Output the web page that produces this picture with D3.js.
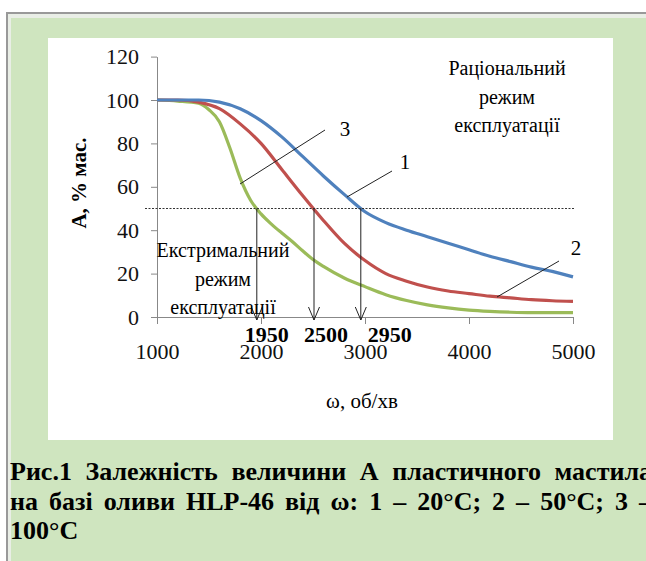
<!DOCTYPE html>
<html>
<head>
<meta charset="utf-8">
<script src="https://d3js.org/d3.v7.min.js"></script>
<style>
  body { margin: 0; width: 646px; height: 561px; overflow: hidden; position: relative; background: #fff; }
  svg { position: absolute; left: 0; top: 0; }
  .cap { position: absolute; left: 10px; width: 642px; font: bold 26px "Liberation Serif", "Times New Roman", serif;
         text-align: justify; text-align-last: justify; white-space: nowrap; color: #000; line-height: 30px; }
  .cap.last { text-align-last: left; }
  .axis text { font: 22px "Liberation Serif", "Times New Roman", serif; fill: #111; }
  .axis path, .axis line { stroke: #888; }
</style>
</head>
<body>
<script>
// chart data
var omega = [1000, 1200, 1400, 1600, 1800, 2000, 2200, 2400, 2600, 2800, 3000, 3200, 3400, 3600, 3800, 4000, 4200, 4400, 4600, 4800, 5000];
var curve1 = [100, 100, 100, 99, 96, 90.5, 83, 74, 65, 56.5, 48.5, 43.5, 40, 37, 34, 31, 28, 25.5, 23, 21, 18.5]; // 20°C
var curve2 = [100, 100, 99, 96, 89, 80, 68, 56, 44.5, 34, 26, 20, 16.5, 13.8, 12, 10.8, 9.6, 8.8, 8, 7.5, 7.2];    // 50°C
var omega3 = [1000, 1200, 1400, 1500, 1600, 1700, 1800, 1900, 2000, 2100, 2200, 2300, 2400, 2500, 2600, 2800, 3000, 3200, 3400, 3600, 3800, 4000, 4200, 4400, 4600, 4800, 5000];
var curve3 = [100, 99.5, 98.5, 95.5, 90, 78, 64, 53.8, 47.5, 42.8, 38.7, 34.8, 30.5, 26.5, 23.3, 18, 14, 10.3, 7.6, 5.6, 4.2, 3.2, 2.6, 2.2, 2, 2, 2]; // 100°C
var xTicks = [1000, 2000, 3000, 4000, 5000];
var yTicks = [0, 20, 40, 60, 80, 100, 120];
var criticalA = 50;
var criticalOmega = [1950, 2500, 2950];

var W = 646, H = 561;
var svg = d3.select("body").append("svg").attr("width", W).attr("height", H);

// frame
svg.append("rect").attr("x", 6).attr("y", 12).attr("width", W).attr("height", H).attr("fill", "#999");
svg.append("rect").attr("x", 8).attr("y", 14).attr("width", W).attr("height", H).attr("fill", "#e9eee6");
svg.append("rect").attr("x", 11).attr("y", 18).attr("width", W).attr("height", H).attr("fill", "#cfe5bf");
svg.append("rect").attr("x", 48).attr("y", 38).attr("width", 565).attr("height", 402).attr("fill", "#fff");

var x = d3.scaleLinear().domain([1000, 5000]).range([157, 573]);
var y = d3.scaleLinear().domain([0, 120]).range([317, 56.6]);

svg.append("g").attr("class", "axis")
  .attr("transform", "translate(157,0)")
  .call(d3.axisLeft(y).tickValues(yTicks).tickSize(6).tickSizeOuter(0).tickPadding(12));

svg.append("g").attr("class", "axis")
  .attr("transform", "translate(0,317)")
  .call(d3.axisBottom(x).tickValues(xTicks).tickFormat(d3.format("d")).tickSize(7).tickSizeOuter(0).tickPadding(19));

// axis titles
svg.append("text").attr("transform", "translate(86,183) rotate(-90)")
  .attr("text-anchor", "middle").style("font", "bold 21px 'Liberation Serif', serif").text("А, % мас.");
svg.append("text").attr("x", 362).attr("y", 408)
  .attr("text-anchor", "middle").style("font", "21px 'Liberation Serif', serif").text("ω, об/хв");

// curves
var line = d3.line().curve(d3.curveMonotoneX).x(function(d) { return x(d[0]); }).y(function(d) { return y(d[1]); });
var series = [
  { xs: omega3, ys: curve3, color: "#9bbb59" },
  { xs: omega, ys: curve2, color: "#c0504d" },
  { xs: omega, ys: curve1, color: "#4f81bd" }
];
series.forEach(function(s) {
  svg.append("path")
    .datum(s.xs.map(function(v, i) { return [v, s.ys[i]]; }))
    .attr("d", line)
    .attr("fill", "none")
    .attr("stroke", s.color)
    .attr("stroke-width", 3.2);
});

// critical level line
svg.append("line")
  .attr("x1", x(1000) - 12).attr("x2", x(5000) + 2)
  .attr("y1", y(criticalA)).attr("y2", y(criticalA))
  .attr("stroke", "#333").attr("stroke-width", 1).attr("stroke-dasharray", "2,1.5");

// arrows
svg.append("defs").append("marker")
  .attr("id", "arr").attr("viewBox", "-14 -7 15 14").attr("refX", 0).attr("refY", 0)
  .attr("markerWidth", 15).attr("markerHeight", 14).attr("markerUnits", "userSpaceOnUse").attr("orient", "auto")
  .append("path").attr("d", "M-13,-5.5 L0,0 L-13,5.5").attr("fill", "none").attr("stroke", "#222").attr("stroke-width", 1);

svg.selectAll(".arrow").data(criticalOmega).enter().append("line")
  .attr("x1", function(d) { return x(d) + 1; }).attr("x2", function(d) { return x(d) + 1; })
  .attr("y1", y(criticalA)).attr("y2", y(0) + 3)
  .attr("stroke", "#222").attr("stroke-width", 1)
  .attr("marker-end", "url(#arr)");

svg.selectAll(".crit").data(criticalOmega).enter().append("text")
  .attr("x", function(d, i) { return x(d) + [11, 13, 30][i]; })
  .attr("y", 342)
  .attr("text-anchor", "middle")
  .style("font", "bold 22px 'Liberation Serif', serif")
  .text(function(d) { return d; });

// leader lines and curve numbers
var leaders = [[240, 184, 325, 130], [347, 197, 392, 171], [497, 297, 559, 261]];
leaders.forEach(function(l) {
  svg.append("line").attr("x1", l[0]).attr("y1", l[1]).attr("x2", l[2]).attr("y2", l[3])
    .attr("stroke", "#222").attr("stroke-width", 1);
});
var labels = [["3", 345, 136], ["1", 405, 169], ["2", 576, 255]];
labels.forEach(function(t) {
  svg.append("text").attr("x", t[1]).attr("y", t[2]).attr("text-anchor", "middle")
    .style("font", "21px 'Liberation Serif', serif").text(t[0]);
});

// regime notes
function note(lines, cx, y0) {
  var t = svg.append("text").attr("text-anchor", "middle").style("font", "20px 'Liberation Serif', serif");
  lines.forEach(function(s, i) {
    t.append("tspan").attr("x", cx).attr("y", y0 + i * 28.5).text(s);
  });
}
note(["Раціональний", "режим", "експлуатації"], 507, 75);
note(["Екстримальний", "режим", "експлуатації"], 223, 257);

// caption
var caption = ["Рис.1 Залежність величини А пластичного мастила", "на базі оливи HLP-46 від ω: 1 – 20°C; 2 – 50°C; 3 –", "100°C"];
caption.forEach(function(s, i) {
  d3.select("body").append("div").attr("class", "cap" + (i == 2 ? " last" : ""))
    .style("top", (457 + i * 29.5) + "px").text(s);
});
</script>
</body>
</html>
